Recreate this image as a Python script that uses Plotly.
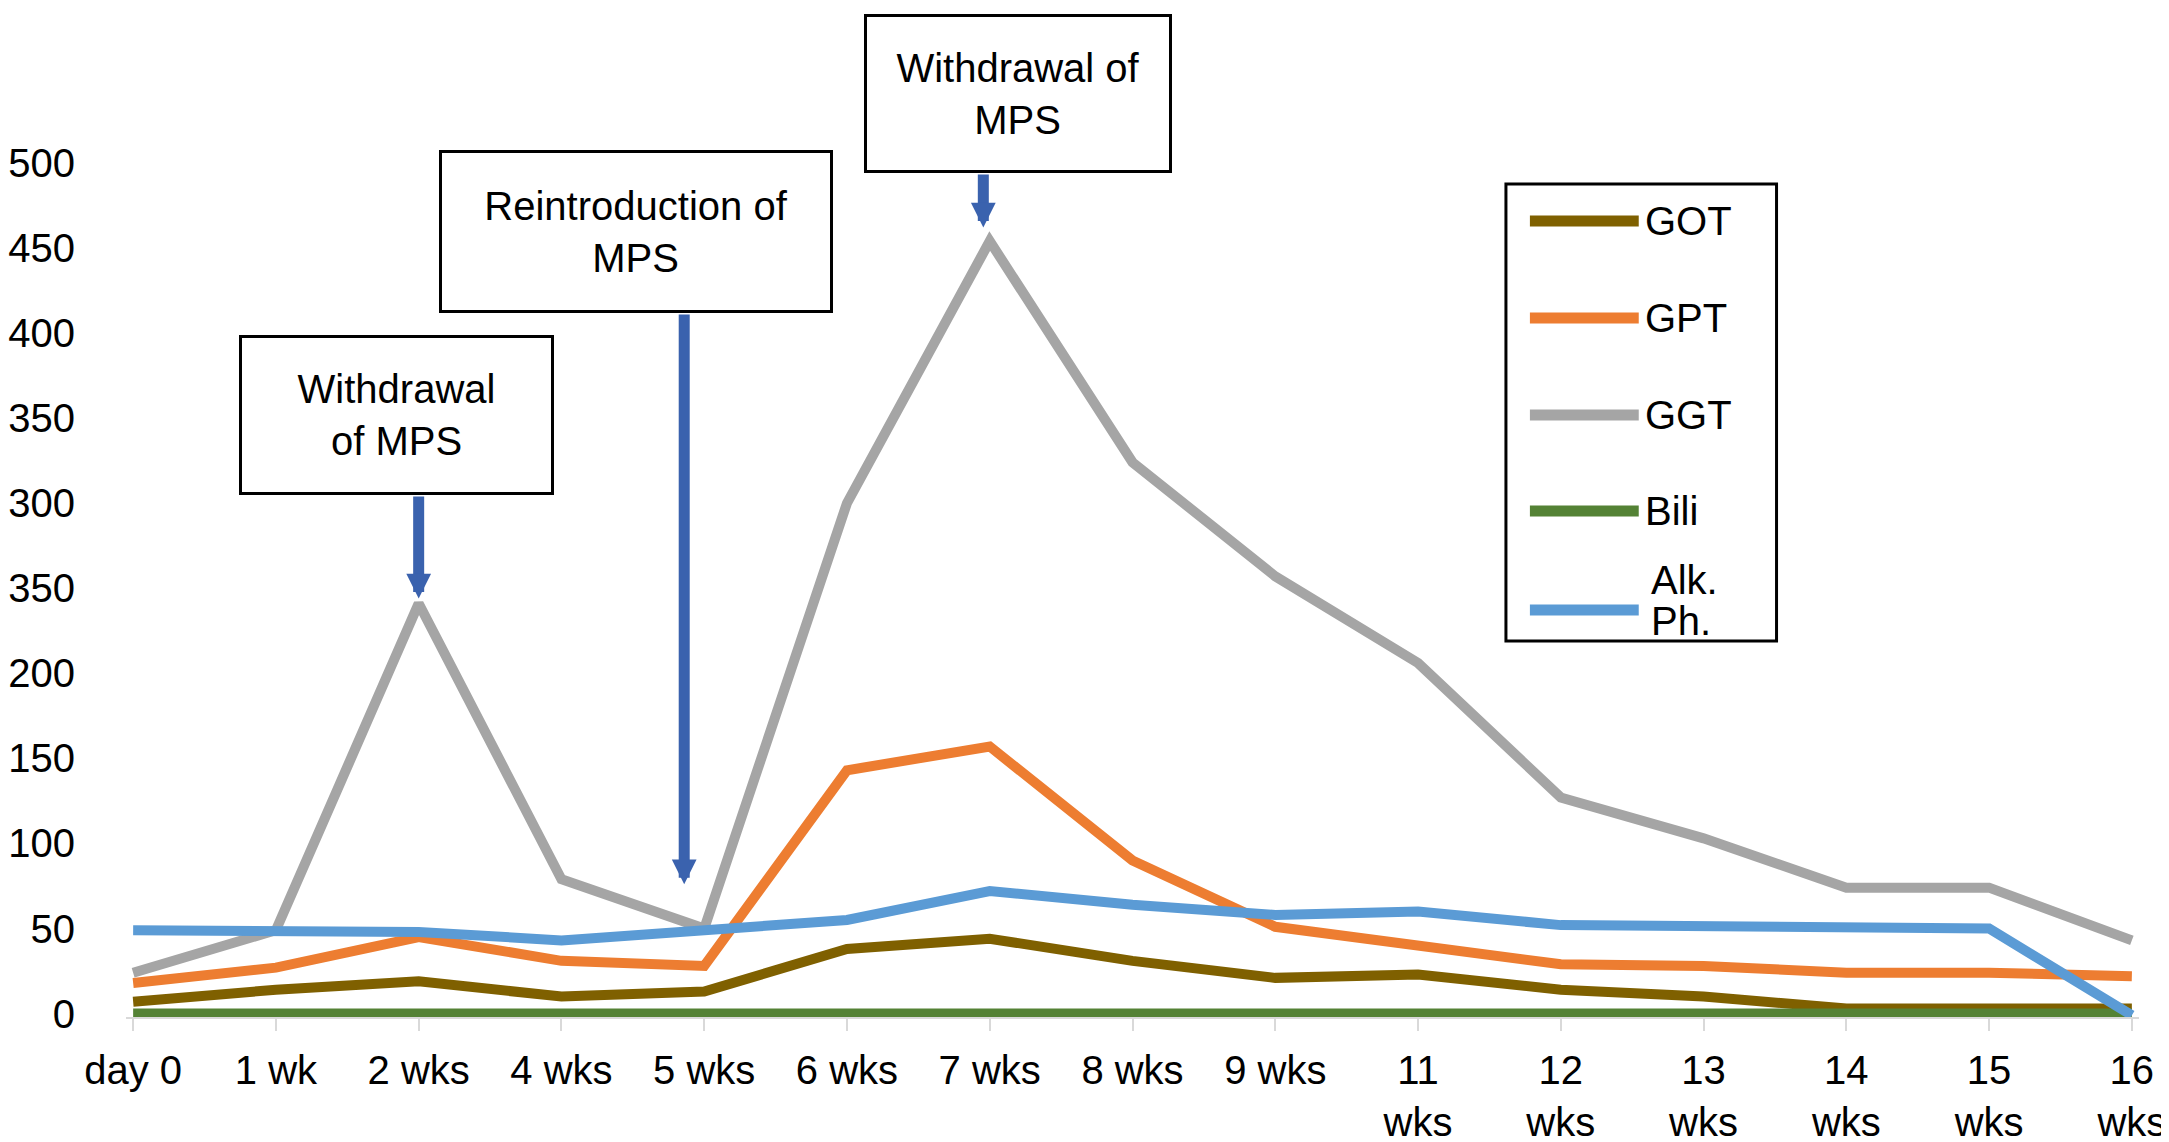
import plotly.graph_objects as go

# time points (x axis categories)
weeks = ["day 0", "1 wk", "2 wks", "4 wks", "5 wks", "6 wks", "7 wks", "8 wks",
         "9 wks", "11<br>wks", "12<br>wks", "13<br>wks", "14<br>wks", "15<br>wks", "16<br>wks"]

got = [7, 14, 19, 10, 13, 38, 44, 31, 21, 23, 14, 10, 3, 3, 3]
gpt = [18, 27, 45, 31, 28, 143, 157, 90, 51, 40, 29, 28, 24, 24, 22]
ggt = [24, 49, 241, 79, 50, 300, 454, 324, 257, 206, 127, 103, 74, 74, 43]
bili = [0, 0, 0, 0, 0, 0, 0, 0, 0, 0, 0, 0, 0, 0, 0]
alk = [49, 48, 48, 43, 49, 55, 72, 64, 58, 60, 52, 51, 51, 50, -1]

series_names = ["GOT", "GPT", "GGT", "Bili", "Alk.<br>Ph."]
series_colors = ["#7F6000", "#ED7D31", "#A5A5A5", "#548235", "#5B9BD5"]

ytick_vals = [0, 50, 100, 150, 200, 250, 300, 350, 400, 450, 500]
ytick_text = ["0", "50", "100", "150", "200", "350", "300", "350", "400", "450", "500"]

FONT = "Liberation Sans"
W, H = 2169, 1142
ML, MR, MT, MB = 115, 38, 0, 133

fig = go.Figure()
x_idx = list(range(len(weeks)))
for name, vals, col in zip(series_names, [got, gpt, ggt, bili, alk], series_colors):
    fig.add_trace(go.Scatter(x=x_idx, y=vals, mode="lines", name=name.replace("<br>", " "),
                             line=dict(color=col, width=10), showlegend=False))


def px_x(p):
    return (p - ML) / (W - ML - MR)


def px_y(p):
    return (H - MB - p) / (H - MB - MT)


# text boxes
boxes = [
    ("Withdrawal<br>of MPS", 1.842, 351.8, 305, 150),
    ("Reintroduction of<br>MPS", 3.524, 459.6, 384, 153),
    ("Withdrawal of<br>MPS", 6.195, 540.7, 298, 149),
]
for txt, bx, by, bw, bh in boxes:
    fig.add_annotation(x=bx, y=by, xref="x", yref="y", text=txt, showarrow=False,
                       width=bw, height=bh, align="center", valign="middle",
                       bordercolor="black", borderwidth=3, borderpad=2, bgcolor="white",
                       font=dict(family=FONT, size=40, color="black"))

# blue arrows (x, tip y, tail y)
arrows = [(2.0, 244, 304.8), (3.86, 76, 411.8), (5.955, 462, 494)]
for ax_, tip_y, tail_y in arrows:
    fig.add_annotation(x=ax_, y=tip_y, ax=ax_, ay=tail_y, xref="x", yref="y",
                       axref="x", ayref="y", text="", showarrow=True,
                       arrowhead=2, arrowsize=0.45, arrowwidth=11,
                       arrowcolor="#3A62AE")

# legend drawn by hand so the line samples are long like the original
fig.add_shape(type="rect", xref="paper", yref="paper",
              x0=px_x(1497), x1=px_x(1768), y0=px_y(633), y1=px_y(176),
              line=dict(color="black", width=3), fillcolor="white", layer="above")
leg_y = [213, 310, 407, 503, 602]
for name, col, ly in zip(series_names, series_colors, leg_y):
    fig.add_shape(type="line", xref="paper", yref="paper",
                  x0=px_x(1521), x1=px_x(1630), y0=px_y(ly), y1=px_y(ly),
                  line=dict(color=col, width=11), layer="above")
    parts = name.split("<br>")
    if len(parts) == 1:
        fig.add_annotation(x=px_x(1634), y=px_y(ly), xref="paper", yref="paper",
                           text=name, showarrow=False, xanchor="left", yanchor="middle",
                           font=dict(family=FONT, size=40, color="black"))
    else:
        # two line label, tighter line spacing than plotly's default
        for k, part in enumerate(parts):
            fig.add_annotation(x=px_x(1640), y=px_y(572 + 41 * k), xref="paper", yref="paper",
                               text=part, showarrow=False, xanchor="left", yanchor="middle",
                               font=dict(family=FONT, size=40, color="black"))

fig.update_layout(
    width=W, height=H,
    margin=dict(l=ML, r=MR, t=MT, b=MB),
    plot_bgcolor="white", paper_bgcolor="white",
    font=dict(family=FONT, size=40, color="black"),
    xaxis=dict(range=[-0.05, 14.05], tickvals=x_idx, ticktext=weeks,
               showline=True, linecolor="#D9D9D9", linewidth=2,
               ticks="outside", ticklen=12, tickwidth=2, tickcolor="#D9D9D9",
               showgrid=False, zeroline=False, tickangle=0,
               tickfont=dict(family=FONT, size=40, color="black"),
               ticklabelstandoff=5),
    yaxis=dict(range=[-2, 591], tickvals=ytick_vals, ticktext=ytick_text,
               showline=False, showgrid=False, zeroline=False, ticks="",
               tickfont=dict(family=FONT, size=40, color="black"),
               ticklabelstandoff=50),
)

fig.write_html("out.html")
